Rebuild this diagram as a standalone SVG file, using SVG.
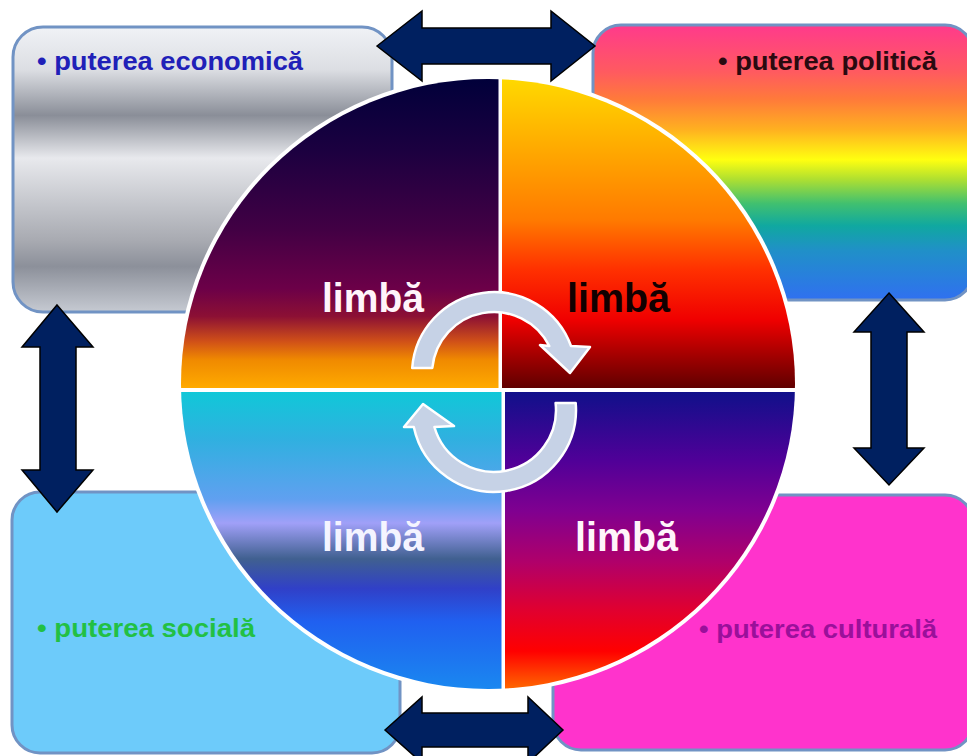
<svg xmlns="http://www.w3.org/2000/svg" width="967" height="756" viewBox="0 0 967 756">
<style>
.box{stroke:#7193c4;stroke-width:3}
.lbl{font-family:"Liberation Sans",Arial,sans-serif;font-weight:bold;font-size:26px}
.limba{font-family:"Liberation Sans",Arial,sans-serif;font-weight:bold;font-size:41px}
.dbl{fill:#002060;stroke:#000;stroke-width:1.5;stroke-linejoin:miter}
.cyc{fill:#c6d2e6;stroke:#fff;stroke-width:2.5;stroke-linejoin:round}
</style>
<defs>
<linearGradient id="gEco" gradientUnits="userSpaceOnUse" x1="0" y1="27" x2="0" y2="312">
<stop offset="0" stop-color="#f0f2f6"/>
<stop offset="0.15" stop-color="#dcdee3"/>
<stop offset="0.31" stop-color="#8a8e98"/>
<stop offset="0.46" stop-color="#e8e9ed"/>
<stop offset="0.63" stop-color="#c2c4ca"/>
<stop offset="0.75" stop-color="#a8aab1"/>
<stop offset="0.84" stop-color="#8c909a"/>
<stop offset="1" stop-color="#c6cad2"/>
</linearGradient>
<linearGradient id="gPol" gradientUnits="userSpaceOnUse" x1="0" y1="25" x2="0" y2="300">
<stop offset="0" stop-color="#ff3a8c"/>
<stop offset="0.17" stop-color="#ff5a60"/>
<stop offset="0.27" stop-color="#ff7a3a"/>
<stop offset="0.38" stop-color="#ffb020"/>
<stop offset="0.49" stop-color="#ffff10"/>
<stop offset="0.56" stop-color="#b0e030"/>
<stop offset="0.65" stop-color="#40c070"/>
<stop offset="0.73" stop-color="#10a8a0"/>
<stop offset="0.82" stop-color="#2090c8"/>
<stop offset="1" stop-color="#3070f0"/>
</linearGradient>
<linearGradient id="gTL" gradientUnits="userSpaceOnUse" x1="0" y1="77" x2="0" y2="388">
<stop offset="0" stop-color="#00003a"/>
<stop offset="0.24" stop-color="#1c0040"/>
<stop offset="0.49" stop-color="#420044"/>
<stop offset="0.68" stop-color="#6c0048"/>
<stop offset="0.77" stop-color="#8c1034"/>
<stop offset="0.85" stop-color="#d05018"/>
<stop offset="0.91" stop-color="#f08a00"/>
<stop offset="1" stop-color="#ffaa00"/>
</linearGradient>
<linearGradient id="gTR" gradientUnits="userSpaceOnUse" x1="0" y1="77" x2="0" y2="388">
<stop offset="0" stop-color="#ffda00"/>
<stop offset="0.2" stop-color="#ffb000"/>
<stop offset="0.46" stop-color="#ff7a00"/>
<stop offset="0.62" stop-color="#ff3000"/>
<stop offset="0.78" stop-color="#f00000"/>
<stop offset="0.9" stop-color="#a00000"/>
<stop offset="1" stop-color="#600000"/>
</linearGradient>
<linearGradient id="gBL" gradientUnits="userSpaceOnUse" x1="0" y1="392" x2="0" y2="690">
<stop offset="0" stop-color="#10c8d8"/>
<stop offset="0.16" stop-color="#30b0e0"/>
<stop offset="0.36" stop-color="#60a0f0"/>
<stop offset="0.44" stop-color="#a0a0f8"/>
<stop offset="0.56" stop-color="#406090"/>
<stop offset="0.66" stop-color="#3040c8"/>
<stop offset="0.77" stop-color="#2060f0"/>
<stop offset="1" stop-color="#1a88f0"/>
</linearGradient>
<linearGradient id="gBR" gradientUnits="userSpaceOnUse" x1="0" y1="392" x2="0" y2="690">
<stop offset="0" stop-color="#10108a"/>
<stop offset="0.23" stop-color="#500098"/>
<stop offset="0.4" stop-color="#800090"/>
<stop offset="0.57" stop-color="#b0006a"/>
<stop offset="0.73" stop-color="#e00030"/>
<stop offset="0.87" stop-color="#ff0000"/>
<stop offset="1" stop-color="#ff6a00"/>
</linearGradient>
<clipPath id="clipC"><ellipse cx="488" cy="384" rx="307" ry="305"/></clipPath>
</defs>
<rect width="967" height="756" fill="#ffffff"/>

<g id="node-economic">
<rect class="box" x="13" y="27" width="379" height="285" rx="30" fill="url(#gEco)"/>
<text class="lbl" x="37" y="70" fill="#2020b8" textLength="266" lengthAdjust="spacingAndGlyphs">• puterea economică</text>
</g>
<g id="node-politic">
<rect class="box" x="593" y="25" width="380" height="275" rx="28" fill="url(#gPol)"/>
<text class="lbl" x="718" y="70" fill="#2a0a10" textLength="219" lengthAdjust="spacingAndGlyphs">• puterea politică</text>
</g>
<g id="node-social">
<rect class="box" x="12" y="492" width="388" height="261" rx="28" fill="#6dcbfa"/>
<text class="lbl" x="37" y="637" fill="#22c044" textLength="218" lengthAdjust="spacingAndGlyphs">• puterea socială</text>
</g>
<g id="node-cultural">
<rect class="box" x="553" y="495" width="420" height="255" rx="28" fill="#ff33cc"/>
<text class="lbl" x="699" y="638" fill="#9a109a" textLength="238" lengthAdjust="spacingAndGlyphs">• puterea culturală</text>
</g>

<g id="node-limba">
<ellipse cx="488" cy="384" rx="311" ry="309" fill="#ffffff"/>
<g clip-path="url(#clipC)">
<rect x="170" y="70" width="328.5" height="318" fill="url(#gTL)"/>
<rect x="502" y="70" width="300" height="318" fill="url(#gTR)"/>
<rect x="170" y="392" width="331.5" height="310" fill="url(#gBL)"/>
<rect x="505" y="392" width="300" height="310" fill="url(#gBR)"/>
</g>
</g>

<g id="connectors">
<polygon class="dbl" points="377,46 422,11 422,28 551,28 551,11 595,46 551,81 551,64 422,64 422,81"/>
<polygon class="dbl" points="889,293 924,332 907,332 907,448 924,448 889,485 854,448 871,448 871,332 854,332"/>
<polygon class="dbl" points="57,305 93,347 76,347 76,470 93,470 57,512 22,470 40,470 40,347 22,347"/>
<polygon class="dbl" points="385,730 422,697 422,713 528,713 528,697 563,730 528,763 528,747 422,747 422,763"/>
<path class="cyc" d="M432.3 368 L412.2 368 A82 82 0 0 1 571 346 L590 347 L570 373 L540 345 L549.3 346 A62 62 0 0 0 432.3 368 Z"/>
<path class="cyc" d="M555.6 403 L575.7 403 A82 82 0 0 1 413.8 427 L404 427 L423 404 L454 426 L434.4 427 A62 62 0 0 0 555.6 403 Z"/>
</g>

<g id="labels-limba">
<text class="limba" x="322" y="312" fill="#fff4fa" textLength="102" lengthAdjust="spacingAndGlyphs">limbă</text>
<text class="limba" x="567" y="312" fill="#120000" textLength="103" lengthAdjust="spacingAndGlyphs">limbă</text>
<text class="limba" x="322" y="551" fill="#f4f4ff" textLength="102" lengthAdjust="spacingAndGlyphs">limbă</text>
<text class="limba" x="575" y="551" fill="#fff4fa" textLength="103" lengthAdjust="spacingAndGlyphs">limbă</text>
</g>
</svg>
